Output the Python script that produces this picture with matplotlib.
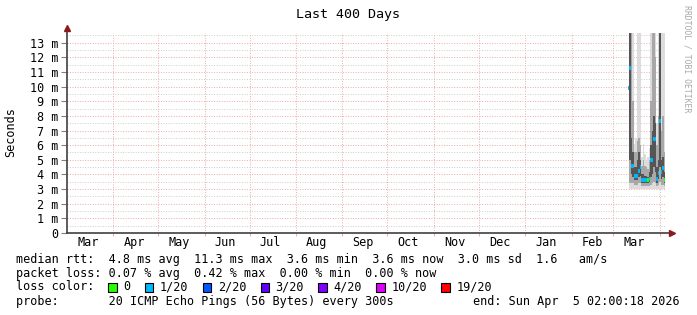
import matplotlib
matplotlib.use('Agg')
import matplotlib.pyplot as plt
import matplotlib.dates as mdates
from matplotlib.patches import Rectangle
import pandas as pd
from datetime import datetime

# time range of the graph
start = datetime(2025, 3, 1, 2, 0, 18)
end = datetime(2026, 4, 5, 2, 0, 18)

# daily samples (ms)
sample_dates = pd.date_range('2026-03-11 02:00', periods=25, freq='D')
median = [9.9, 11.3, 4.6, 4.6, 3.9, 3.9, 3.9, 4.25, 4.5, 3.6, 3.6, 3.6, 3.6,
          3.6, 3.7, 5.0, 5.0, 6.4, 6.4, 3.7, 4.1, 7.65, 4.15, 4.45, 3.6]
loss = [1, 1, 1, 1, 1, 1, 1, 1, 1, 1, 1, 1, 1,
        0, 1, 1, 1, 1, 1, 1, 1, 1, 1, 1, 0]
smoke_min = [3.0] * 25
smoke_p10 = [3.4, 3.4, 3.4, 3.4, 3.3, 3.3, 3.3, 3.4, 3.4, 3.2, 3.2, 3.2, 3.2,
             3.2, 3.2, 3.3, 3.4, 3.5, 3.4, 3.2, 3.3, 3.5, 3.3, 3.3, 3.2]
smoke_p25 = [4.0, 5.0, 4.0, 3.8, 3.6, 3.6, 3.6, 3.8, 3.9, 3.4, 3.4, 3.4, 3.4,
             3.4, 3.5, 3.8, 4.0, 4.5, 4.2, 3.4, 3.7, 4.5, 3.7, 3.8, 3.4]
smoke_p75 = [20, 20, 6.5, 5.5, 4.5, 4.5, 5.0, 5.5, 5.0, 4.0, 4.0, 3.9, 3.9,
             3.8, 4.2, 6.0, 7.0, 8.0, 7.5, 4.5, 5.0, 20, 5.0, 5.2, 4.2]
smoke_p90 = [20, 20, 20, 9.0, 5.5, 5.5, 6.3, 6.5, 6.0, 4.6, 5.0, 4.6, 4.5,
             4.4, 5.0, 9.0, 20, 20, 12, 6.0, 8.0, 20, 7.0, 8.0, 5.5]
smoke_max = [20, 20, 20, 20, 6.1, 6.5, 20, 20, 20, 5.2, 6.1, 5.4, 5.0,
             5.2, 5.8, 20, 20, 20, 20, 7.5, 20, 20, 20, 20, 20]

loss_labels = ['0', '1/20', '2/20', '3/20', '4/20', '10/20', '19/20']
loss_colors = ['#26ff00', '#00b8ff', '#0059ff', '#5e00ff', '#7e00ff', '#dd00ff', '#ff0000']

stats_rows = [
    'median rtt:  4.8 ms avg  11.3 ms max  3.6 ms min  3.6 ms now  3.0 ms sd  1.6   am/s',
    'packet loss: 0.07 % avg  0.42 % max  0.00 % min  0.00 % now',
]
probe_text = 'probe:       20 ICMP Echo Pings (56 Bytes) every 300s'
end_text = 'end: Sun Apr  5 02:00:18 2026'

mono = 'DejaVu Sans Mono'
fs = 8.5
W, H = 697, 315

fig = plt.figure(figsize=(W / 100, H / 100), dpi=100)
ax = fig.add_axes([67 / W, 82 / H, 599 / W, 200 / H])
ax.set_xlim(start, end)
ax.set_ylim(0, 13.66)

# smoke
ax.fill_between(sample_dates, smoke_min, smoke_max, step='mid', color='#dcdcdc', lw=0, zorder=2)
ax.fill_between(sample_dates, smoke_p10, smoke_p90, step='mid', color='#a8a8a8', lw=0, zorder=3)
ax.fill_between(sample_dates, smoke_p25, smoke_p75, step='mid', color='#555555', lw=0, zorder=4)

# median by loss colour
half = pd.Timedelta(hours=12)
for d, m, l in zip(sample_dates, median, loss):
    ax.hlines(m, d - half, d + half, color=loss_colors[l], lw=2.8, zorder=5)

# grid
ax.set_yticks(range(0, 14))
ax.set_yticks([i + 0.5 for i in range(0, 14)], minor=True)
ax.set_yticklabels(['0'] + ['%d m' % i for i in range(1, 14)], family=mono, fontsize=fs)
ax.xaxis.set_major_locator(mdates.MonthLocator())
ax.xaxis.set_major_formatter(plt.NullFormatter())
ax.xaxis.set_minor_locator(mdates.MonthLocator(bymonthday=15))
ax.xaxis.set_minor_formatter(mdates.DateFormatter('%b'))
for lab in ax.get_xticklabels(minor=True):
    lab.set_family(mono)
    lab.set_fontsize(fs)
ax.tick_params(axis='x', which='minor', length=0, pad=2)
ax.tick_params(axis='x', which='major', length=2, color='#f0b0b0')
ax.tick_params(axis='y', which='major', length=4, color='#808080', pad=2)
ax.tick_params(axis='y', which='minor', length=0)

dots = (0, (1, 1.6))
ax.grid(True, axis='y', which='major', color='#f0a8a8', ls=dots, lw=0.7, zorder=1)
ax.grid(True, axis='y', which='minor', color='#cccccc', ls=dots, lw=0.7, zorder=1)
ax.grid(True, axis='x', which='major', color='#f0a8a8', ls=dots, lw=0.7, zorder=1)
ax.set_axisbelow(True)

for s in ax.spines.values():
    s.set_visible(False)

# axes with arrows
ax.plot([0, 0], [0, 1.02], transform=ax.transAxes, clip_on=False, color='#404040', lw=1.2, zorder=6)
ax.plot([0, 1.005], [0, 0], transform=ax.transAxes, clip_on=False, color='#404040', lw=1.2, zorder=6)
ax.plot(0, 1.025, marker='^', ms=4.5, color='#8b1a1a', transform=ax.transAxes, clip_on=False, zorder=7)
ax.plot(1.01, 0, marker='>', ms=4.5, color='#8b1a1a', transform=ax.transAxes, clip_on=False, zorder=7)

# titles
fig.text(348 / W, 1 - 14.5 / H, 'Last 400 Days', ha='center', va='center', family=mono, fontsize=9.6)
fig.text(11 / W, 1 - 132 / H, 'Seconds', rotation=90, ha='center', va='center', family=mono, fontsize=fs)
fig.text(687 / W, 1 - 5 / H, 'RRDTOOL / TOBI OETIKER', rotation=270, ha='center', va='top',
         family=mono, fontsize=5.9, color='#a8a8a8')

# legend
cw = 7.1
row_y = [259, 273, 287, 301]
for txt, y in zip(stats_rows, row_y[:2]):
    fig.text(16 / W, 1 - y / H, txt, ha='left', va='center', family=mono, fontsize=fs)
fig.text(16 / W, 1 - row_y[2] / H, 'loss color:', ha='left', va='center', family=mono, fontsize=fs)
col = 13
for lab, c in zip(loss_labels, loss_colors):
    bx = 16 + col * cw
    fig.patches.append(Rectangle((bx / W, 1 - 291.5 / H), 8.5 / W, 9 / H, transform=fig.transFigure,
                                 facecolor=c, edgecolor='black', lw=0.8))
    fig.text((bx + 15) / W, 1 - row_y[2] / H, lab, ha='left', va='center', family=mono, fontsize=fs)
    col += len(lab) + 4.15
fig.text(16 / W, 1 - row_y[3] / H, probe_text, ha='left', va='center', family=mono, fontsize=fs)
fig.text(680 / W, 1 - row_y[3] / H, end_text, ha='right', va='center', family=mono, fontsize=fs)

fig.savefig('out.png', dpi=100)
